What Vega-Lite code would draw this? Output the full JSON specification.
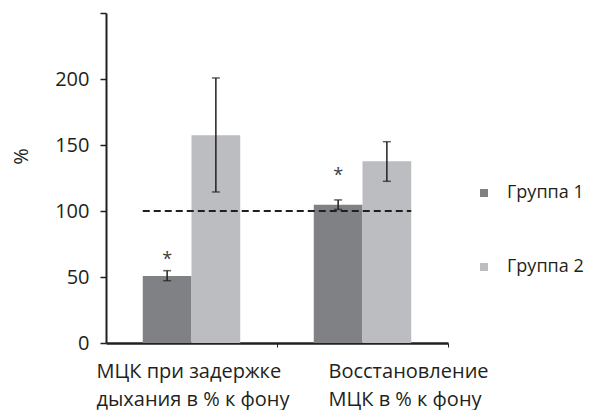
{
  "$schema": "https://vega.github.io/schema/vega-lite/v6.json",
  "autosize": "none",
  "padding": {"left": 106, "top": 13, "right": 144, "bottom": 67},
  "width": 342,
  "height": 330,
  "config": {
    "font": "Open Sans",
    "view": {"stroke": null},
    "axis": {"grid": false, "labelColor": "#231f20", "titleColor": "#231f20", "domainColor": "#231f20", "tickColor": "#231f20"}
  },
  "data": {
    "values": [
      {"cat": "МЦК при задержке|дыхания в % к фону", "group": "Группа 1", "value": 50.8, "lo": 47.2, "hi": 54.8, "star": 59},
      {"cat": "МЦК при задержке|дыхания в % к фону", "group": "Группа 2", "value": 157.3, "lo": 114.4, "hi": 200.8, "star": null},
      {"cat": "Восстановление|МЦК в % к фону", "group": "Группа 1", "value": 104.8, "lo": 101.2, "hi": 108.4, "star": 123},
      {"cat": "Восстановление|МЦК в % к фону", "group": "Группа 2", "value": 137.6, "lo": 122.5, "hi": 152.5, "star": null}
    ]
  },
  "encoding": {
    "x": {
      "field": "cat", "type": "nominal", "sort": null, "title": null,
      "scale": {"paddingInner": 0.43, "paddingOuter": 0.215},
      "axis": {
        "labelExpr": "split(datum.label, '|')",
        "labelAngle": 0,
        "labelFontSize": 20,
        "labelLineHeight": 28,
        "labelLimit": 0,
        "labelAlign": "left",
        "labelBaseline": "top",
        "labelPadding": 14,
        "labelOffset": {"condition": {"test": "indexof(datum.value, 'задержке') >= 0", "value": -181}, "value": -120},
        "tickOffset": 85.5,
        "tickSize": 4,
        "tickWidth": 1,
        "domainWidth": 2.5
      }
    },
    "xOffset": {"field": "group", "type": "nominal", "scale": {"paddingInner": 0, "paddingOuter": 0}}
  },
  "layer": [
    {
      "mark": {"type": "bar"},
      "encoding": {
        "y": {
          "field": "value", "type": "quantitative", "title": "%",
          "scale": {"domain": [0, 250], "nice": false},
          "axis": {
            "values": [0, 50, 100, 150, 200, 250],
            "labelExpr": "datum.value == 250 ? '' : datum.label",
            "labelFontSize": 20,
            "labelPadding": 11,
            "tickSize": 6,
            "tickWidth": 1.5,
            "domainWidth": 2,
            "titleFontSize": 20,
            "titleFontWeight": "normal",
            "titleX": -85,
            "titleY": 143,
            "titleBaseline": "middle",
            "titleAlign": "center"
          }
        },
        "color": {
          "field": "group", "type": "nominal",
          "scale": {"domain": ["Группа 1", "Группа 2"], "range": ["#808184", "#bcbdc0"]},
          "legend": {
            "title": null, "orient": "none", "legendX": 369, "legendY": 171,
            "symbolType": "square", "symbolSize": 64, "symbolStrokeWidth": 0,
            "labelFontSize": 18, "labelColor": "#231f20", "labelOffset": 14,
            "labelLimit": 0, "rowPadding": 56
          }
        }
      }
    },
    {
      "mark": {"type": "rule", "color": "#231f20", "strokeWidth": 1.5},
      "encoding": {
        "y": {"field": "lo", "type": "quantitative"},
        "y2": {"field": "hi"}
      }
    },
    {
      "mark": {"type": "tick", "color": "#231f20", "size": 8, "thickness": 1.5},
      "encoding": {"y": {"field": "lo", "type": "quantitative"}}
    },
    {
      "mark": {"type": "tick", "color": "#231f20", "size": 8, "thickness": 1.5},
      "encoding": {"y": {"field": "hi", "type": "quantitative"}}
    },
    {
      "transform": [{"filter": "datum.star != null"}],
      "mark": {"type": "text", "text": "*", "fontSize": 18, "color": "#404041", "baseline": "alphabetic"},
      "encoding": {"y": {"field": "star", "type": "quantitative"}}
    },
    {
      "data": {"values": [{"a": "МЦК при задержке|дыхания в % к фону", "b": "Восстановление|МЦК в % к фону", "v": 100}]},
      "mark": {"type": "rule", "color": "#231f20", "strokeWidth": 2, "strokeDash": [7, 4]},
      "encoding": {
        "x": {"field": "a", "type": "nominal", "bandPosition": 0},
        "x2": {"field": "b", "bandPosition": 1},
        "xOffset": null,
        "y": {"field": "v", "type": "quantitative"}
      }
    }
  ]
}
